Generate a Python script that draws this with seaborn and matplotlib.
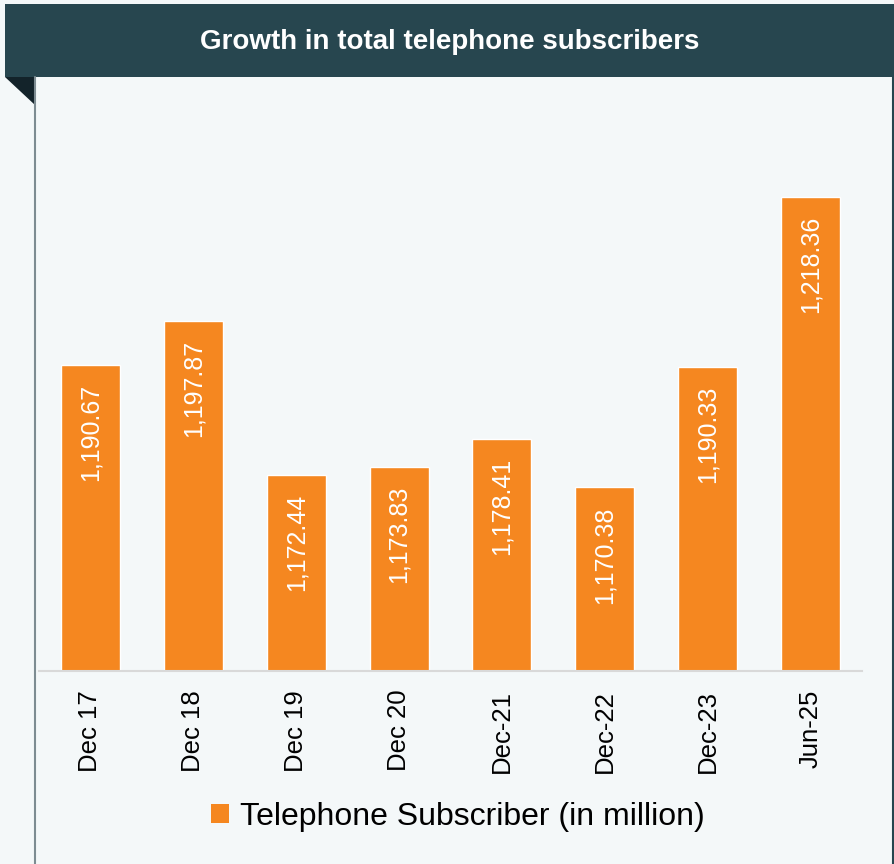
import matplotlib
matplotlib.use("Agg")
import matplotlib.pyplot as plt
from matplotlib.patches import Rectangle, Polygon, Patch
from matplotlib.lines import Line2D
import seaborn as sns
import pandas as pd

# Subscriber base at each reporting point (in million)
periods = ["Dec 17", "Dec 18", "Dec 19", "Dec 20", "Dec-21", "Dec-22", "Dec-23", "Jun-25"]
subscribers = [1190.67, 1197.87, 1172.44, 1173.83, 1178.41, 1170.38, 1190.33, 1218.36]
title_text = "Growth in total telephone subscribers"
series_name = "Telephone Subscriber (in million)"

ORANGE = "#f58720"
BANNER = "#27464f"
FOLD = "#13232a"
BG = "#f4f8f9"

sns.set_theme(style="white")
plt.rcParams["font.family"] = ["Liberation Sans", "DejaVu Sans"]
plt.rcParams["text.color"] = "black"

W, H = 895, 864
fig = plt.figure(figsize=(W / 100, H / 100), dpi=100, facecolor=BG)


def fx(px):
    return px / W


def fy(py):
    return 1 - py / H


# Header banner with folded corner and side rules
fig.add_artist(Rectangle((fx(5), fy(77)), fx(890), 73 / H, transform=fig.transFigure,
                         facecolor=BANNER, edgecolor="none", zorder=1))
fig.add_artist(Polygon([(fx(5), fy(77)), (fx(35), fy(77)), (fx(35), fy(105))],
                       closed=True, transform=fig.transFigure, facecolor=FOLD,
                       edgecolor="none", zorder=2))
fig.add_artist(Line2D([fx(35), fx(35)], [fy(77), 0], transform=fig.transFigure,
                      color="#7d8c92", lw=1.5, zorder=2))
fig.add_artist(Line2D([fx(893.5), fx(893.5)], [fy(77), 0], transform=fig.transFigure,
                      color=BANNER, lw=1.5, zorder=2))
fig.text(fx(450), fy(42), title_text, color="white", fontsize=20, fontweight="bold",
         ha="center", va="center", zorder=3)

ax = fig.add_axes([fx(39), fy(671), fx(823), 571 / H])
ax.set_facecolor(BG)

df = pd.DataFrame({"period": periods, "subscribers": subscribers})
sns.barplot(data=df, x="period", y="subscribers", color=ORANGE, saturation=1,
            width=0.573, ax=ax)

ax.set_ylim(1140, 1140 + 571 / 6.044)
ax.set_xlim(-0.5, len(periods) - 0.5)

for i, v in enumerate(subscribers):
    ax.annotate(f"{v:,.2f}", xy=(i, v), xytext=(0, -13.5), textcoords="offset points",
                rotation=90, ha="center", va="top", color="white", fontsize=18)

ax.set_xlabel("")
ax.set_ylabel("")
ax.set_yticks([])
ax.tick_params(axis="x", length=0, pad=13.5, labelsize=18.5, labelcolor="black",
               rotation=90)
for side in ["left", "right", "top"]:
    ax.spines[side].set_visible(False)
ax.spines["bottom"].set_color("#d9d9d9")
ax.spines["bottom"].set_linewidth(1.5)

fig.legend(handles=[Patch(facecolor=ORANGE, edgecolor="none", label=series_name)],
           loc="center", bbox_to_anchor=(fx(458), fy(817)), frameon=False,
           fontsize=23, handlelength=0.55, handleheight=0.55, handletextpad=0.35,
           borderpad=0, labelcolor="black")

fig.savefig("out.png", dpi=100, facecolor=BG)
